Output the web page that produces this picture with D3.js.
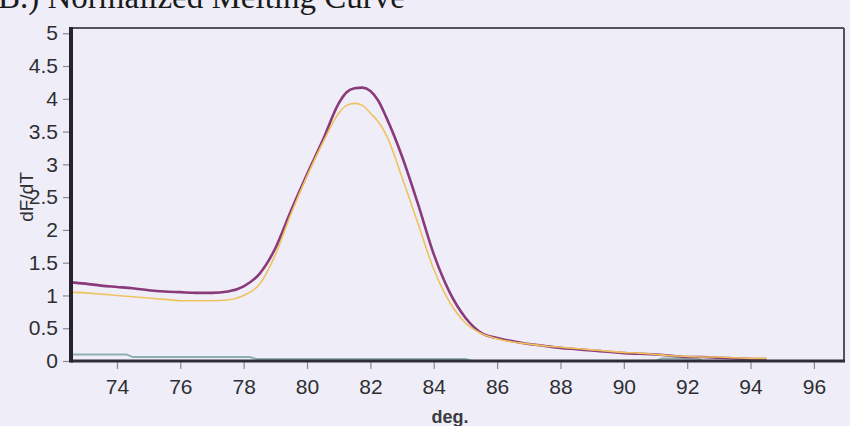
<!DOCTYPE html>
<html>
<head>
<meta charset="utf-8">
<script src="https://cdn.jsdelivr.net/npm/d3@7"></script>
<style>
  body { margin: 0; background: #efeef8; overflow: hidden; }
  svg { display: block; }
</style>
</head>
<body>
<svg id="chart" width="850" height="426"></svg>
<script>
// melting curve data
const temps = [72.5, 73, 73.5, 74, 74.5, 75, 75.5, 76, 76.5, 77, 77.5, 78, 78.5, 79, 79.5, 80, 80.5, 81, 81.25, 81.5, 81.75, 82, 82.25, 82.5, 83, 83.5, 84, 84.5, 85, 85.5, 86, 86.5, 87, 87.5, 88, 88.5, 89, 89.5, 90, 90.5, 91, 91.5, 92, 92.5, 93, 93.5, 94, 94.5];
const purple = [1.20, 1.18, 1.15, 1.13, 1.11, 1.08, 1.06, 1.05, 1.04, 1.04, 1.06, 1.14, 1.33, 1.72, 2.30, 2.85, 3.37, 3.93, 4.10, 4.16, 4.17, 4.12, 3.97, 3.72, 3.12, 2.40, 1.63, 1.05, 0.66, 0.43, 0.35, 0.30, 0.26, 0.23, 0.20, 0.18, 0.16, 0.14, 0.12, 0.11, 0.10, 0.08, 0.06, 0.06, 0.05, 0.04, 0.03, 0.03];
const orange = [1.05, 1.04, 1.02, 1.00, 0.98, 0.96, 0.94, 0.92, 0.92, 0.92, 0.93, 1.00, 1.17, 1.62, 2.25, 2.82, 3.33, 3.78, 3.90, 3.93, 3.90, 3.78, 3.65, 3.45, 2.80, 2.10, 1.40, 0.90, 0.58, 0.42, 0.34, 0.29, 0.26, 0.23, 0.21, 0.19, 0.17, 0.15, 0.13, 0.12, 0.10, 0.08, 0.07, 0.06, 0.06, 0.05, 0.04, 0.04];
const baseTemps = [72.5, 74.3, 74.5, 78.2, 78.4, 85.0, 85.2, 91.0, 91.2, 92.3, 92.5];
const baseVals = [0.10, 0.10, 0.06, 0.06, 0.03, 0.03, 0.0, 0.0, 0.04, 0.04, 0.0];

const xTicks = [74, 76, 78, 80, 82, 84, 86, 88, 90, 92, 94, 96];
const yTicks = [0, 0.5, 1, 1.5, 2, 2.5, 3, 3.5, 4, 4.5, 5];

const svg = d3.select("#chart");
const plotLeft = 71, plotRight = 844, plotTop = 28, plotBottom = 361;

const x = d3.scaleLinear().domain([72.55, 96.95]).range([plotLeft, plotRight]);
const y = d3.scaleLinear().domain([0, 5.08]).range([plotBottom, plotTop]);

// title, cut at the top edge like in the scan
svg.append("text")
    .attr("x", -2)
    .attr("y", 8)
    .attr("font-family", "Liberation Serif, Times New Roman, serif")
    .attr("font-size", 33)
    .attr("fill", "#1a1a1a")
    .text("B.) Normalized Melting Curve");

const line = (xs, ys) => d3.line()
    .x((d, i) => x(xs[i]))
    .y(d => y(d))
    .curve(d3.curveMonotoneX)(ys);

const plot = svg.append("g");

plot.append("path")
    .attr("d", d3.line().x((d, i) => x(baseTemps[i])).y(d => y(d))(baseVals))
    .attr("fill", "none")
    .attr("stroke", "#8eaeb2")
    .attr("stroke-width", 2);

plot.append("path")
    .attr("d", line(temps, purple))
    .attr("fill", "none")
    .attr("stroke", "#8a3a7a")
    .attr("stroke-width", 2.6);

plot.append("path")
    .attr("d", line(temps, orange))
    .attr("fill", "none")
    .attr("stroke", "#eec25e")
    .attr("stroke-width", 1.6);

// frame
svg.append("line")
    .attr("x1", plotLeft).attr("x2", plotRight).attr("y1", plotTop).attr("y2", plotTop)
    .attr("stroke", "#55535e").attr("stroke-width", 2);
svg.append("line")
    .attr("x1", plotRight).attr("x2", plotRight).attr("y1", plotTop).attr("y2", plotBottom)
    .attr("stroke", "#55535e").attr("stroke-width", 2);

// axes
const xAxis = svg.append("g")
    .attr("transform", `translate(0,${plotBottom})`)
    .call(d3.axisBottom(x).tickValues(xTicks).tickSize(8).tickPadding(10).tickFormat(d3.format("d")));
const yAxis = svg.append("g")
    .attr("transform", `translate(${plotLeft},0)`)
    .call(d3.axisLeft(y).tickValues(yTicks).tickSize(8).tickPadding(5).tickFormat(d => d));

[xAxis, yAxis].forEach(g => {
  g.select(".domain").remove();
  g.selectAll(".tick line").attr("stroke", "#8a8890").attr("stroke-width", 1.2);
  g.selectAll(".tick text")
      .attr("font-family", "Liberation Sans, Arial, sans-serif")
      .attr("font-size", 21)
      .attr("fill", "#2e2e33");
});

svg.append("line")
    .attr("x1", plotLeft).attr("x2", plotRight + 1).attr("y1", plotBottom).attr("y2", plotBottom)
    .attr("stroke", "#2e2d36").attr("stroke-width", 3);
svg.append("line")
    .attr("x1", plotLeft).attr("x2", plotLeft).attr("y1", plotTop - 1).attr("y2", plotBottom + 1.5)
    .attr("stroke", "#26252d").attr("stroke-width", 4);

// axis labels
svg.append("text")
    .attr("x", 450)
    .attr("y", 423)
    .attr("text-anchor", "middle")
    .attr("font-family", "Liberation Sans, Arial, sans-serif")
    .attr("font-size", 18)
    .attr("font-weight", "bold")
    .attr("fill", "#3a3a40")
    .text("deg.");

svg.append("text")
    .attr("transform", "translate(33,197) rotate(-90)")
    .attr("text-anchor", "middle")
    .attr("font-family", "Liberation Sans, Arial, sans-serif")
    .attr("font-size", 19)
    .attr("fill", "#2e2e33")
    .text("dF/dT");
</script>
</body>
</html>
